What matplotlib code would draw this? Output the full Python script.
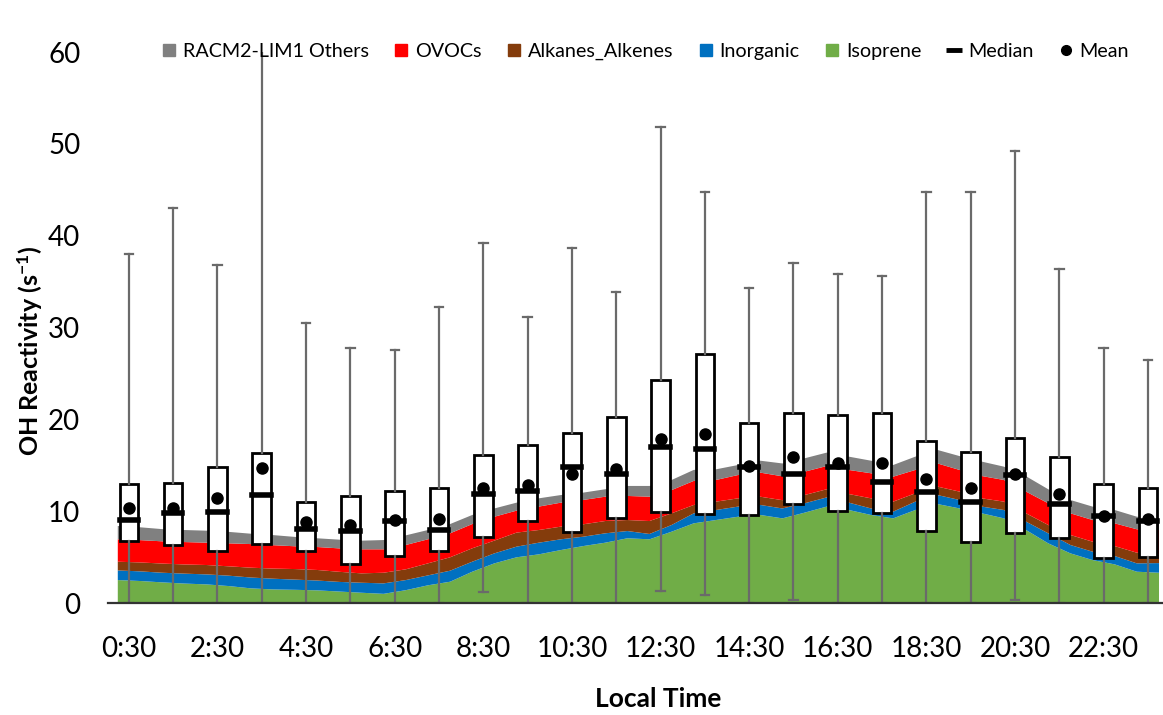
import numpy as np
import matplotlib
matplotlib.use("Agg")
import matplotlib.pyplot as plt
from matplotlib.lines import Line2D

plt.rcParams['font.family'] = ['Lato', 'DejaVu Sans']
plt.rcParams['mathtext.default'] = 'regular'

# hourly box statistics, OH reactivity (s-1)
hours = ['%d:30' % h for h in range(24)]
q1 = [6.8, 6.3, 5.7, 6.4, 5.7, 4.3, 5.1, 5.7, 7.2, 8.9, 7.7, 9.25,
      9.95, 9.7, 9.55, 10.75, 10.0, 9.8, 7.8, 6.65, 7.66, 7.12, 4.9, 5.05]
median = [9.0, 9.8, 9.9, 11.8, 8.1, 7.8, 8.9, 8.0, 11.9, 12.2, 14.8, 14.05,
          17.0, 16.8, 14.85, 14.1, 14.8, 13.2, 12.05, 11.05, 13.94, 10.78, 9.48, 8.93]
q3 = [13.0, 13.1, 14.85, 16.3, 11.0, 11.7, 12.2, 12.5, 16.1, 17.2, 18.55, 20.3,
      24.26, 27.1, 19.65, 20.7, 20.5, 20.7, 17.65, 16.45, 18.0, 15.87, 12.96, 12.5]
mean = [10.3, 10.4, 11.4, 14.7, 8.8, 8.5, 9.0, 9.2, 12.5, 12.9, 14.0, 14.6,
        17.9, 18.4, 14.9, 15.9, 15.3, 15.3, 13.5, 12.5, 14.0, 11.87, 9.5, 9.1]
whis_lo = [0, 0, 0, 0, 0, 0, 0, 0, 1.2, 0, 0, 0,
           1.3, 0.9, 0, 0.3, 0, 0, 0, 0, 0.3, 0, 0, 0]
whis_hi = [38.0, 43.0, 36.8, 61.0, 30.5, 27.8, 27.6, 32.2, 39.2, 31.2, 38.7, 33.9,
           51.8, 44.8, 34.3, 37.0, 35.8, 35.6, 44.8, 44.8, 49.2, 36.4, 27.8, 26.5]

# modelled half-hourly contributions (RACM2-LIM1)
isoprene = [2.50, 2.40, 2.25, 2.12, 2.03, 1.85, 1.60, 1.48, 1.44, 1.38, 1.25, 1.12,
            1.00, 1.40, 1.93, 2.32, 3.41, 4.32, 4.98, 5.30, 5.77, 6.20, 6.57, 7.05,
            6.94, 7.77, 8.68, 9.04, 9.40, 9.59, 9.22, 9.84, 10.50, 10.13, 9.59, 9.22,
            10.13, 10.78, 10.30, 9.77, 9.22, 7.95, 6.50, 5.41, 4.68, 4.21, 3.41, 3.30]
inorganic = [1.05, 1.05, 1.05, 1.08, 1.09, 1.13, 1.18, 1.17, 1.11, 1.07, 1.05, 1.09,
             1.14, 1.10, 1.08, 1.20, 1.09, 1.09, 1.16, 1.27, 1.17, 1.02, 1.02, 0.79,
             0.58, 0.73, 1.09, 1.09, 1.10, 1.09, 1.08, 1.02, 1.00, 0.80, 0.71, 0.73,
             0.91, 0.98, 0.92, 0.73, 0.91, 0.91, 1.09, 0.91, 0.91, 0.91, 0.91, 1.05]
alkanes = [0.95, 0.97, 1.00, 1.00, 1.02, 1.02, 1.07, 1.10, 1.15, 1.15, 1.10, 1.02,
           1.16, 1.17, 1.31, 1.46, 1.46, 1.39, 1.53, 1.38, 1.38, 1.35, 1.34, 1.20,
           1.41, 1.27, 0.91, 0.91, 0.90, 0.90, 0.90, 0.90, 0.89, 0.94, 1.10, 1.09,
           0.91, 0.92, 0.91, 0.90, 0.91, 0.91, 0.91, 1.09, 1.09, 1.08, 1.16, 0.95]
ovocs = [2.44, 2.43, 2.42, 2.44, 2.43, 2.50, 2.57, 2.55, 2.48, 2.50, 2.55, 2.62,
         2.55, 2.65, 2.62, 2.61, 2.64, 2.60, 2.39, 2.55, 2.61, 2.65, 2.65, 2.62,
         2.65, 2.53, 2.62, 2.36, 2.54, 2.62, 2.60, 2.54, 2.53, 2.62, 2.73, 2.72,
         2.54, 2.52, 2.36, 2.43, 2.36, 2.36, 2.36, 2.36, 2.36, 2.48, 2.55, 2.65]
others = [1.45, 1.40, 1.33, 1.31, 1.31, 1.25, 1.13, 1.10, 1.02, 0.95, 0.95, 0.94,
          1.01, 1.05, 1.01, 1.01, 0.99, 0.90, 0.87, 0.90, 0.83, 0.80, 0.81, 1.09,
          1.17, 1.10, 1.20, 1.16, 1.09, 1.30, 1.40, 1.46, 1.46, 1.45, 1.37, 1.27,
          1.45, 1.47, 1.51, 1.57, 1.45, 1.67, 1.53, 1.45, 1.46, 1.45, 1.37, 1.27]

layer_names = ['Isoprene', 'Inorganic', 'Alkanes_Alkenes', 'OVOCs', 'RACM2-LIM1 Others']
layer_colors = ['#70AD47', '#0070C0', '#843C0C', '#FF0000', '#808080']

fig = plt.figure(figsize=(11.63, 7.15), dpi=100)
ax = fig.add_axes([0.0929, 0.1566, 0.9071, 0.7706])

# half-hourly model points sit between the hourly boxes
x_area = np.arange(len(isoprene)) * 0.5 - 0.25
ax.stackplot(x_area, isoprene, inorganic, alkanes, ovocs, others,
             colors=layer_colors, linewidth=0, zorder=1)

stats = []
for i in range(len(hours)):
    stats.append(dict(med=median[i], q1=q1[i], q3=q3[i], whislo=whis_lo[i],
                      whishi=whis_hi[i], mean=mean[i], fliers=[]))

pos = np.arange(len(hours))
ax.bxp(stats, positions=pos, widths=0.42, capwidths=0.19, showmeans=True,
       patch_artist=True, zorder=3,
       boxprops=dict(facecolor='white', edgecolor='black', linewidth=2),
       medianprops=dict(color='black', linewidth=4, solid_capstyle='projecting'),
       meanprops=dict(marker='o', markerfacecolor='black', markeredgecolor='black',
                      markersize=8),
       whiskerprops=dict(color='#6a6a6a', linewidth=1.6),
       capprops=dict(color='#6a6a6a', linewidth=1.6))

ax.set_xlim(-0.47, 23.34)
ax.set_ylim(0, 60)
ax.set_yticks(range(0, 61, 10))
ax.set_xticks(pos[::2])
ax.set_xticklabels(hours[::2])
ax.tick_params(axis='both', length=0, labelsize=20)
ax.tick_params(axis='x', pad=24)
ax.tick_params(axis='y', pad=20)

for side in ['left', 'right', 'top']:
    ax.spines[side].set_visible(False)
ax.spines['bottom'].set_color('#333333')
ax.spines['bottom'].set_linewidth(1.6)
ax.spines['bottom'].set_zorder(5)

# axis titles placed in figure coordinates
fig.text(0.026, 0.509, 'OH Reactivity (s$^{-1}$)', rotation=90, ha='center',
         va='center', fontsize=18, fontweight='bold')
fig.text(0.566, 0.022, 'Local Time', ha='center', va='center',
         fontsize=19, fontweight='bold')

handles = []
for name, col in zip(layer_names[::-1], layer_colors[::-1]):
    handles.append(Line2D([], [], linestyle='none', marker='s', markersize=8,
                          markerfacecolor=col, markeredgecolor=col, label=name))
handles.append(Line2D([], [], linestyle='none', marker='_', markersize=12,
                      markeredgewidth=3.5, color='black', label='Median'))
handles.append(Line2D([], [], linestyle='none', marker='o', markersize=7,
                      color='black', label='Mean'))
fig.legend(handles=handles, loc='center', bbox_to_anchor=(0.555, 0.928), ncol=7,
           frameon=False, fontsize=14.2, handlelength=0.7, handletextpad=0.35,
           columnspacing=1.3)

fig.savefig('out.png', dpi=100)
